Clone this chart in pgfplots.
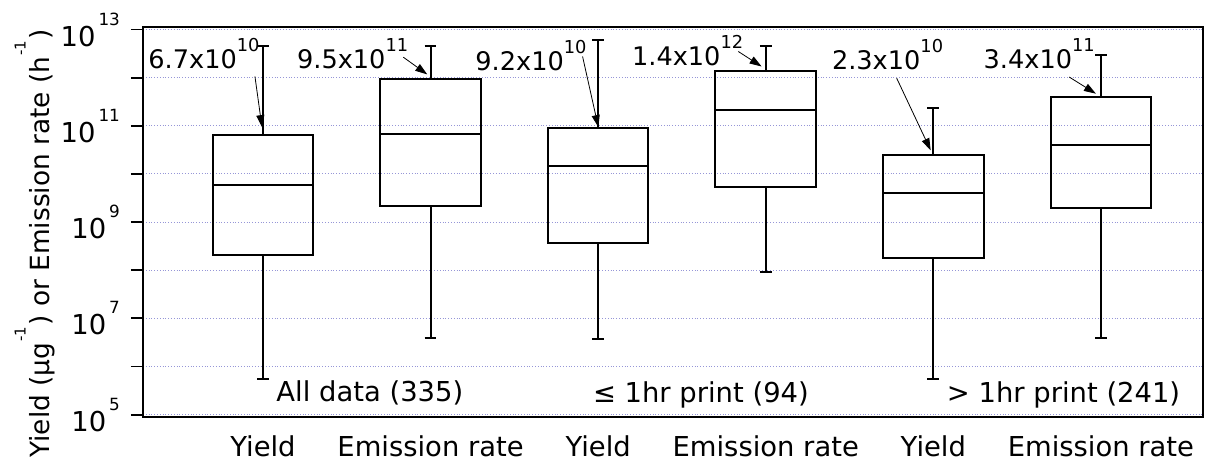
\documentclass[border=0pt]{standalone}
\usepackage{pgfplots}
\pgfplotsset{compat=1.18}
\usepgfplotslibrary{statistics}
\usetikzlibrary{arrows.meta}
\usepackage{fontspec}
\setmainfont{DejaVu Sans}
\definecolor{gridc}{RGB}{150,150,215}
\newcommand\tsup[1]{\kern1.5pt\raisebox{10.5pt}{\fontsize{8.4}{9}\selectfont #1}}
\newcommand\vsup[1]{\raisebox{8.5pt}{\fontsize{8.9}{9}\selectfont #1}}
\newcommand\lsup[1]{\kern0.5pt\raisebox{12pt}{\fontsize{7.5}{8}\selectfont #1}\kern0.5pt}
\begin{document}
\begin{tikzpicture}
\begin{axis}[name=ax,
  scale only axis, width=530pt, height=195pt,
  ymode=log, ymin=8.95e4, ymax=1.13e13,
  xmin=0.284, xmax=6.609,
  xtick={1,2,3,4,5,6},
  xticklabels={Yield, Emission rate, Yield, Emission rate, Yield, Emission rate},
  x tick style={draw=none},
  xticklabel style={yshift=0pt},
  ytick={1e5,1e7,1e9,1e11,1e13},
  yticklabels={10\tsup{5},10\tsup{7},10\tsup{9},10\tsup{11},10\tsup{13}},
  minor ytick={1e6,1e8,1e10,1e12},
  ytick pos=left, tick align=outside,
  major tick length=6pt, minor tick length=6pt,
  y tick style={black, line width=0.9pt},
  ymajorgrids, yminorgrids,
  major grid style={densely dotted, gridc, line width=0.5pt},
  minor grid style={densely dotted, gridc, line width=0.5pt},
  axis line style={line width=1.2pt},
  every tick label/.append style={font=\fontsize{13.7}{16}\selectfont},
  yticklabel style={xshift=-2pt},
  ylabel={Yield (µg\lsup{-1} ) or Emission rate (h\lsup{-1})},
  ylabel style={font=\fontsize{13.2}{16}\selectfont, at={(axis description cs:-0.102,0.445)}, anchor=center},
  boxplot/draw direction=y,
  every axis plot/.append style={black, line width=1pt},
]
\addplot[boxplot prepared={draw position=1, lower whisker=5.40e5, lower quartile=2.07e8, median=5.85e9, upper quartile=6.6e10, upper whisker=4.59e12, box extend=0.6, whisker extend=0.07}] coordinates {};
\addplot[boxplot prepared={draw position=2, lower whisker=3.88e6, lower quartile=2.15e9, median=6.89e10, upper quartile=9.5e11, upper whisker=4.45e12, box extend=0.6, whisker extend=0.07}] coordinates {};
\addplot[boxplot prepared={draw position=3, lower whisker=3.71e6, lower quartile=3.72e8, median=1.47e10, upper quartile=9.2e10, upper whisker=6.21e12, box extend=0.6, whisker extend=0.07}] coordinates {};
\addplot[boxplot prepared={draw position=4, lower whisker=9.33e7, lower quartile=5.24e9, median=2.16e11, upper quartile=1.4e12, upper whisker=4.45e12, box extend=0.6, whisker extend=0.07}] coordinates {};
\addplot[boxplot prepared={draw position=5, lower whisker=5.50e5, lower quartile=1.77e8, median=3.94e9, upper quartile=2.45e10, upper whisker=2.34e11, box extend=0.6, whisker extend=0.07}] coordinates {};
\addplot[boxplot prepared={draw position=6, lower whisker=3.88e6, lower quartile=2.01e9, median=3.94e10, upper quartile=3.95e11, upper whisker=3.03e12, box extend=0.6, whisker extend=0.07}] coordinates {};

\begin{scope}[every node/.style={inner sep=0pt, anchor=base west, font=\fontsize{12.8}{15}\selectfont}]
\node at (axis cs:0.314,1.54e12) {6.7x10\vsup{10}};
\node at (axis cs:1.201,1.54e12) {9.5x10\vsup{11}};
\node at (axis cs:2.265,1.41e12) {9.2x10\vsup{10}};
\node at (axis cs:3.200,1.80e12) {1.4x10\vsup{12}};
\node at (axis cs:4.393,1.46e12) {2.3x10\vsup{10}};
\node at (axis cs:5.298,1.54e12) {3.4x10\vsup{11}};
\end{scope}
\begin{scope}[every node/.style={inner sep=0pt, anchor=base west, font=\fontsize{13.7}{16}\selectfont}]
\node at (axis cs:1.078,1.89e5) {All data (335)};
\node at (axis cs:2.967,1.75e5) {≤ 1hr print (94)};
\node at (axis cs:5.079,1.75e5) {> 1hr print (241)};
\end{scope}
\begin{scope}[-{Triangle[length=6pt,width=4pt]}, line width=0.4pt]
\draw (axis cs:0.952,1.06e12) -- (axis cs:0.994,9.4e10);
\draw (axis cs:1.837,2.67e12) -- (axis cs:1.980,1.17e12);
\draw (axis cs:2.907,2.75e12) -- (axis cs:3.001,9.44e10);
\draw (axis cs:3.836,3.50e12) -- (axis cs:3.975,1.71e12);
\draw (axis cs:4.781,9.8e11) -- (axis cs:4.984,3.1e10);
\draw (axis cs:5.811,1.03e12) -- (axis cs:5.970,4.65e11);
\end{scope}
\end{axis}
\pgfresetboundingbox
\path[use as bounding box] ([xshift=-71.5pt,yshift=-23.5pt]ax.south west) rectangle ([xshift=6pt,yshift=13.5pt]ax.north east);
\end{tikzpicture}
\end{document}
